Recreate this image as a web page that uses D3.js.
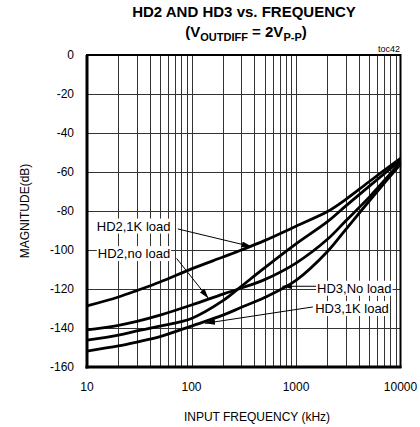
<!DOCTYPE html>
<html>
<head>
<meta charset="utf-8">
<script src="https://cdn.jsdelivr.net/npm/d3@7"></script>
<style>
body { margin:0; background:#fff; }
text { font-family: "Liberation Sans", Arial, sans-serif; fill:#000; }
.grid line { stroke:#333; stroke-width:1; shape-rendering:crispEdges; }
.grid path { display:none; }
.curve { fill:none; stroke:#000; stroke-width:2.8; }
.leader { stroke:#000; stroke-width:1; fill:none; }
</style>
</head>
<body>
<svg id="chart" width="420" height="427"></svg>
<script>
// ---- data (kHz, dB) ----
var freqs      = [10, 20, 30, 50, 100, 200, 300, 500, 1000, 2000, 3000, 5000, 10000];
var hd2Load1k  = [-128.7, -124.1, -120.8, -116.4, -109.7, -103.6, -100, -95.2, -87.8, -80.3, -74, -65, -53];
var hd2NoLoad  = [-141, -138.6, -136.6, -133.4, -128.2, -122.6, -119.5, -115.2, -106.7, -94.5, -85, -73, -55];
var hd3Load1k  = [-146.2, -143.6, -141.5, -139, -135.1, -126, -118.6, -109.2, -96.9, -85.5, -77.4, -67.4, -54];
var hd3NoLoad  = [-151.8, -149.2, -147.2, -144.4, -139, -133.4, -129.4, -124.4, -115.6, -100.8, -89.4, -75, -56];

var xTicks = [10, 100, 1000, 10000];
var yTicks = [0, -20, -40, -60, -80, -100, -120, -140, -160];

// labels: text anchor (freq, dB), leader start, arrow tip
var labelNames = ["HD2,1K load", "HD2,no load", "HD3,No load", "HD3,1K load"];
var labelPos   = [[12.4, -87.7], [12.7, -101.8], [1590, -119.6], [1525, -130]];
var leadFrom   = [[74, -89.2], [72, -104.3], [1590, -118.6], [1450, -129.2]];
var leadTo     = [[377, -98.3], [145, -124.8], [740, -118.6], [135, -137.6]];

function buildChart()
{
var left = 87, right = 400.5, top = 55, bottom = 367;

var xScale = d3.scaleLog()
    .domain([10, 10000])
    .range([left, right]);

var yScale = d3.scaleLinear()
    .domain([-160, 0])
    .range([bottom, top]);

var svg = d3.select("#chart");

// title
svg.append("text")
    .attr("x", 244).attr("y", 17)
    .attr("text-anchor", "middle")
    .style("font-weight", "bold").style("font-size", "15px")
    .text("HD2 AND HD3 vs. FREQUENCY");

var sub = svg.append("text")
    .attr("x", 246).attr("y", 37)
    .attr("text-anchor", "middle")
    .style("font-weight", "bold").style("font-size", "15px");
sub.append("tspan").text("(V");
sub.append("tspan").attr("dy", 4).style("font-size", "11px").text("OUTDIFF");
sub.append("tspan").attr("dy", -4).text(" = 2V");
sub.append("tspan").attr("dy", 4).style("font-size", "11px").text("P-P");
sub.append("tspan").attr("dy", -4).text(")");

svg.append("text")
    .attr("x", 400).attr("y", 52)
    .attr("text-anchor", "end")
    .style("font-size", "9px")
    .text("toc42");

// minor + major vertical gridlines
var minor = [];
[10, 100, 1000].forEach(function(d) {
  for (var k = 2; k <= 9; k++) minor.push(d * k);
});
minor = minor.concat([100, 1000]);

svg.append("g")
    .attr("class", "grid")
    .attr("transform", "translate(0," + bottom + ")")
    .call(d3.axisBottom(xScale)
        .tickValues(minor)
        .tickSize(-(bottom - top))
        .tickFormat(""));

svg.append("g")
    .attr("class", "grid")
    .attr("transform", "translate(" + left + ",0)")
    .call(d3.axisLeft(yScale)
        .tickValues(yTicks)
        .tickSize(-(right - left))
        .tickFormat(""));

// frame
svg.append("rect")
    .attr("x", left).attr("y", top)
    .attr("width", right - left).attr("height", bottom - top)
    .attr("fill", "none").attr("stroke", "#000").attr("stroke-width", 2);
svg.append("line")
    .attr("x1", left).attr("x2", left).attr("y1", top).attr("y2", bottom + 1.5)
    .attr("stroke", "#000").attr("stroke-width", 3);
svg.append("line")
    .attr("x1", left - 1.5).attr("x2", right + 1).attr("y1", bottom).attr("y2", bottom)
    .attr("stroke", "#000").attr("stroke-width", 3);

// tick labels
svg.append("g").selectAll("text")
    .data(yTicks)
    .enter().append("text")
    .attr("x", 74)
    .attr("y", function(d) { return yScale(d); })
    .attr("dy", "0.35em")
    .attr("text-anchor", "end")
    .style("font-size", "12px")
    .text(function(d) { return d; });

svg.append("g").selectAll("text")
    .data(xTicks)
    .enter().append("text")
    .attr("x", function(d) { return xScale(d); })
    .attr("y", 391)
    .attr("text-anchor", "middle")
    .style("font-size", "12px")
    .text(function(d) { return d; });

// axis titles
svg.append("text")
    .attr("x", 257).attr("y", 421)
    .attr("text-anchor", "middle")
    .style("font-size", "12px")
    .text("INPUT FREQUENCY (kHz)");

svg.append("text")
    .attr("transform", "translate(29," + ((top + bottom) / 2) + ") rotate(-90)")
    .attr("text-anchor", "middle")
    .style("font-size", "12px")
    .text("MAGNITUDE(dB)");

// curves
var line = d3.line()
    .x(function(d) { return xScale(d[0]); })
    .y(function(d) { return yScale(d[1]); })
    .curve(d3.curveCatmullRom.alpha(0.5));

[hd2Load1k, hd2NoLoad, hd3Load1k, hd3NoLoad].forEach(function(s) {
  svg.append("path")
      .datum(freqs.map(function(f, i) { return [f, s[i]]; }))
      .attr("class", "curve")
      .attr("d", line);
});

// arrowhead marker
svg.append("defs").append("marker")
    .attr("id", "arr")
    .attr("viewBox", "0 0 10 6")
    .attr("refX", 10).attr("refY", 3)
    .attr("markerWidth", 10).attr("markerHeight", 6)
    .attr("markerUnits", "userSpaceOnUse")
    .attr("orient", "auto")
    .append("path")
    .attr("d", "M0,0L10,3L0,6Z")
    .attr("fill", "#000");

// leaders
labelNames.forEach(function(n, i) {
  svg.append("line")
      .attr("class", "leader")
      .attr("x1", xScale(leadFrom[i][0])).attr("y1", yScale(leadFrom[i][1]))
      .attr("x2", xScale(leadTo[i][0])).attr("y2", yScale(leadTo[i][1]))
      .attr("marker-end", "url(#arr)");
});

// labels with white boxes
labelNames.forEach(function(n, i) {
  var g = svg.append("g");
  var t = g.append("text")
      .attr("x", xScale(labelPos[i][0]))
      .attr("y", yScale(labelPos[i][1]))
      .attr("dy", "0.35em")
      .style("font-size", "13px")
      .text(n);
  var bb = t.node().getBBox();
  g.insert("rect", "text")
      .attr("x", bb.x - 1).attr("y", bb.y)
      .attr("width", bb.width + 2).attr("height", bb.height)
      .attr("fill", "#fff");
});

}

buildChart();
</script>
</body>
</html>
